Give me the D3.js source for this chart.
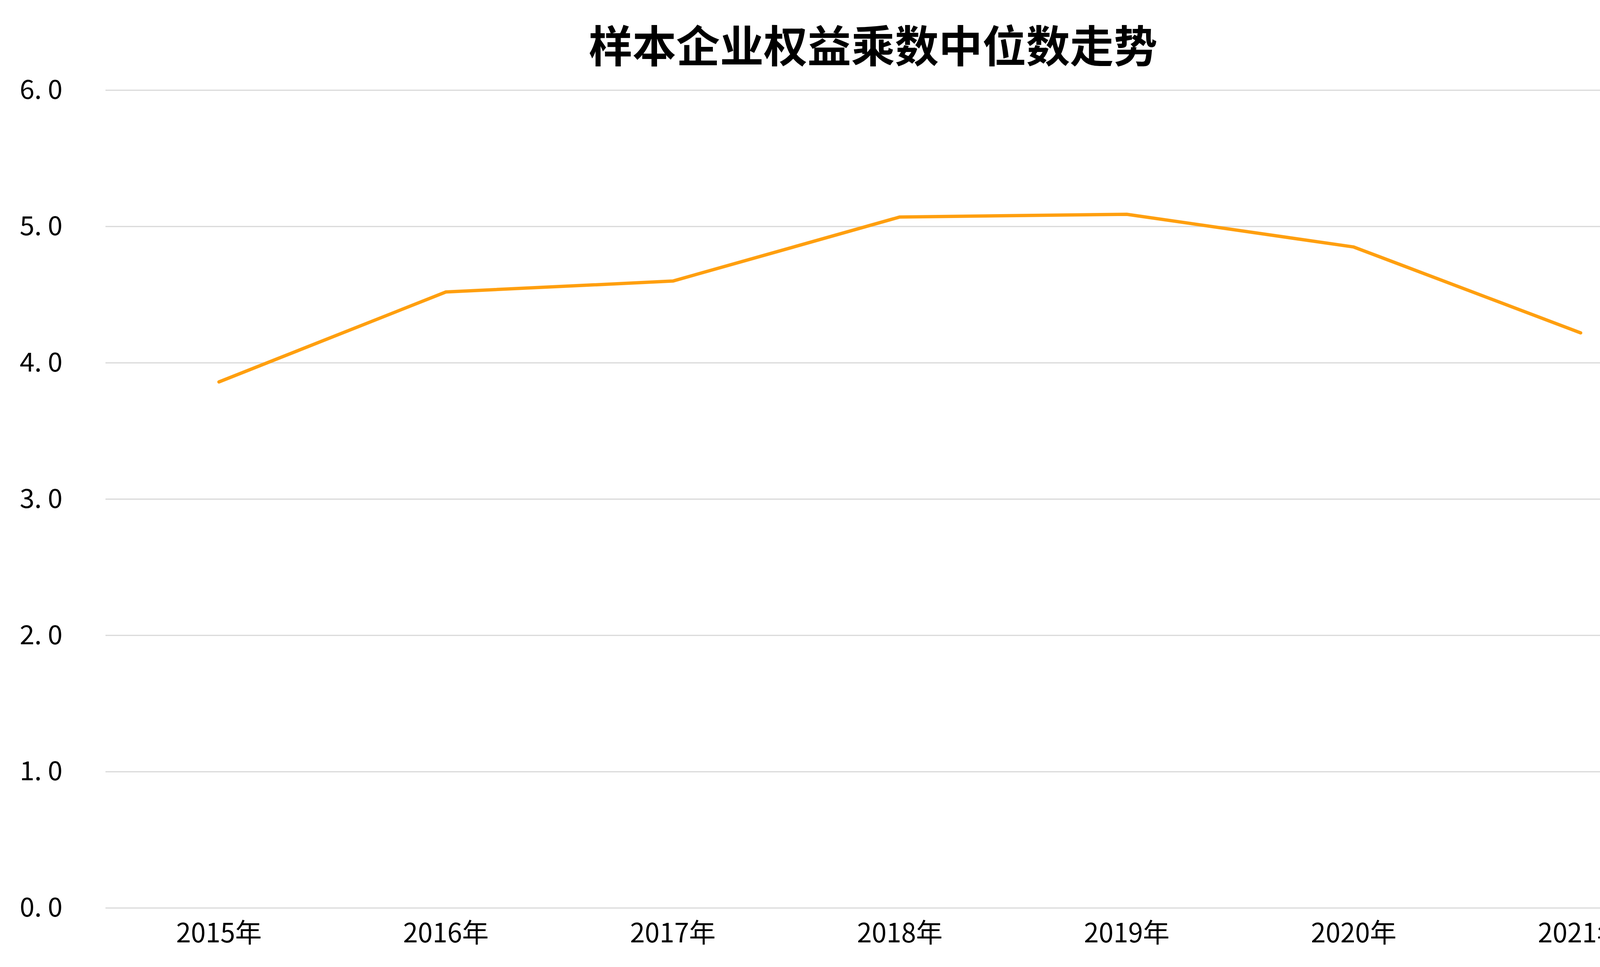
<!DOCTYPE html>
<html>
<head>
<meta charset="utf-8">
<script src="https://cdn.jsdelivr.net/npm/d3@7"></script>
<style>
  body { margin: 0; background: #fff; }
  text { font-family: "Noto Sans CJK SC", sans-serif; }
</style>
</head>
<body>
<div id="root"></div>
<script>
// Chart data.
const years = ['2015年', '2016年', '2017年', '2018年', '2019年', '2020年', '2021年'];
const medians = [3.86, 4.52, 4.60, 5.07, 5.09, 4.85, 4.22];
const yTicks = [0, 1, 2, 3, 4, 5, 6];

let width = 4400;
let height = 2475;
let plotLeft = 270, plotRight = 4337, plotTop = 231, plotBottom = 2324;

let svg = d3.select('#root')
  .append('svg')
  .attr('width', width)
  .attr('height', height);

let xScale = d3.scaleBand()
  .domain(years)
  .range([plotLeft, plotRight]);

let yScale = d3.scaleLinear()
  .domain([0, 6])
  .range([plotBottom, plotTop]);

// Gridlines.
svg.append('g')
  .selectAll('line')
  .data(yTicks)
  .enter()
  .append('line')
  .attr('x1', plotLeft)
  .attr('x2', plotRight)
  .attr('y1', d => yScale(d))
  .attr('y2', d => yScale(d))
  .attr('stroke', '#d9d9d9')
  .attr('stroke-width', 3);

// Y labels.
let yAxis = d3.axisLeft(yScale)
  .tickValues(yTicks)
  .tickSize(0)
  .tickPadding(0)
  .tickFormat(d => d3.format('.1f')(d).replace('.', '. '));

svg.append('g')
  .attr('transform', `translate(160, 0)`)
  .call(yAxis)
  .call(g => g.select('.domain').remove())
  .selectAll('text')
  .attr('font-size', 68)
  .attr('fill', '#000');

// X labels.
let xAxis = d3.axisBottom(xScale)
  .tickSize(0)
  .tickPadding(40);

svg.append('g')
  .attr('transform', `translate(0, ${plotBottom})`)
  .call(xAxis)
  .call(g => g.select('.domain').remove())
  .selectAll('text')
  .attr('font-size', 68)
  .attr('fill', '#000');

// Line.
let line = d3.line()
  .x((d, i) => xScale(years[i]) + xScale.bandwidth() / 2)
  .y(d => yScale(d));

svg.append('path')
  .datum(medians)
  .attr('d', line)
  .attr('fill', 'none')
  .attr('stroke', '#FF9F0F')
  .attr('stroke-width', 8.5)
  .attr('stroke-linejoin', 'round')
  .attr('stroke-linecap', 'round');

// Title.
svg.append('text')
  .attr('x', 2235)
  .attr('y', 160)
  .attr('text-anchor', 'middle')
  .attr('font-size', 112)
  .attr('font-weight', 'bold')
  .text('样本企业权益乘数中位数走势');
</script>
</body>
</html>
